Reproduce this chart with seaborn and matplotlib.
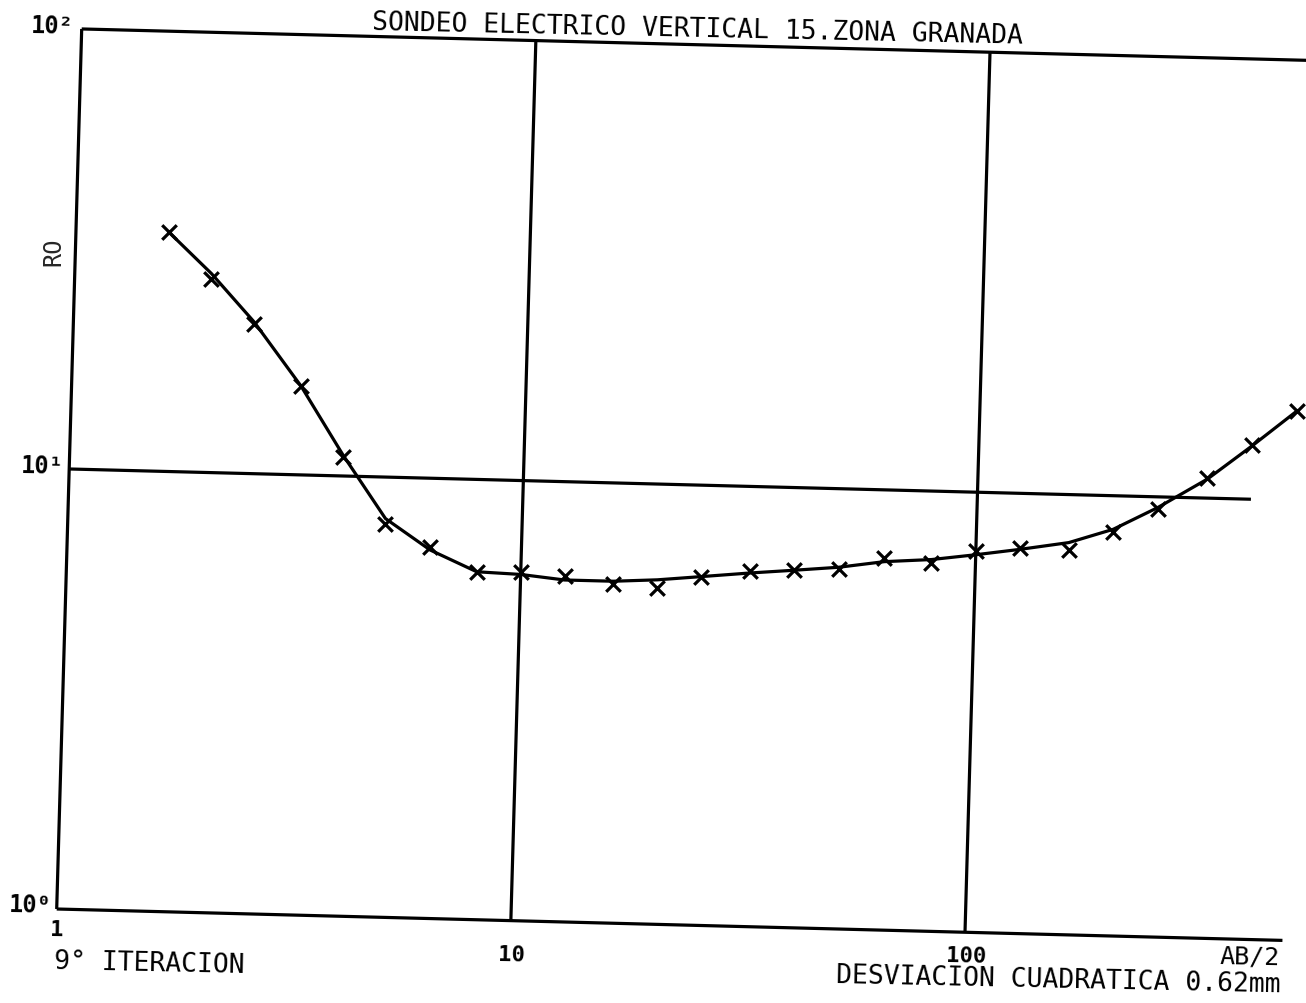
import numpy as np
import pandas as pd
import matplotlib
matplotlib.use("Agg")
import matplotlib.pyplot as plt
import seaborn as sns
from matplotlib.transforms import Affine2D

# Half electrode spacing AB/2 (m)
ab2 = [1.6, 2, 2.5, 3.2, 4, 5, 6.3, 8, 10, 12.5, 16, 20, 25, 32, 40, 50,
       63, 80, 100, 125, 160, 200, 250, 320, 400, 500]
# Measured apparent resistivity (crosses)
rho_obs = [35.0, 27.5, 21.9, 15.9, 11.05, 7.84, 6.99, 6.15, 6.21, 6.12, 5.88,
           5.82, 6.18, 6.41, 6.49, 6.58, 7.01, 6.85, 7.35, 7.53, 7.47, 8.25,
           9.38, 11.09, 13.3, 16.0]
# Model response after the 9th iteration (solid curve)
rho_fit = [35.0, 28.3, 22.1, 15.9, 11.14, 8.05, 6.87, 6.17, 6.12, 5.98, 5.98,
           6.06, 6.20, 6.36, 6.49, 6.63, 6.87, 6.99, 7.21, 7.46, 7.78, 8.39,
           9.46, 11.05, 13.24, 16.0]

title = "SONDEO ELECTRICO VERTICAL 15.ZONA GRANADA"
y_tick_labels = ["10\u00b2", "10\u00b9", "10\u2070"]
x_tick_labels = ["1", "10", "100"]

# Frame of the log-log sheet
X_MIN, X_BOTTOM_END, X_TOP_END = 1, 500, 1000
Y_MIN, Y_MAX = 1, 100
GRID_X = [10, 100]
GRID_Y, GRID_Y_END = 10, 400

sns.set_theme(style="white")
plt.rcParams["font.family"] = ["DejaVu Sans Mono", "DejaVu Sans"]

W, H = 1306, 1004
fig = plt.figure(figsize=(W / 100, H / 100), dpi=100)
fig.patch.set_facecolor("white")

ox, oy = 56.7, H - 910.0          # pixel position of (1, 1)
dec_x, dec_y = 454.3, 440.2       # pixels per decade
ax = fig.add_axes([ox / W, oy / H, 3 * dec_x / W, 2 * dec_y / H])
ax.set_xscale("log")
ax.set_yscale("log")

# the plotter sheet sits slightly skewed on the page
tx, ty = 0.0256, 0.0284
M = np.array([[np.cos(tx), np.sin(ty), 0.0],
              [-np.sin(tx), np.cos(ty), 0.0],
              [0.0, 0.0, 1.0]])
skew = Affine2D().translate(-ox, -oy) + Affine2D(M) + Affine2D().translate(ox, oy)
T = ax.transData + skew

LW = 2.3
df_fit = pd.DataFrame({"ab2": ab2, "rho": rho_fit})
df_obs = pd.DataFrame({"ab2": ab2, "rho": rho_obs})

sns.lineplot(data=df_fit, x="ab2", y="rho", ax=ax, color="black",
             linewidth=LW, estimator=None, sort=False)
line = ax.lines[-1]
line.set_transform(T)
line.set_clip_on(False)
line.set_solid_joinstyle("round")

sns.scatterplot(data=df_obs, x="ab2", y="rho", ax=ax, marker="x", s=110,
                color="black", linewidth=2.3)
pts = ax.collections[-1]
pts.set_offset_transform(T)
pts.set_clip_on(False)

frame_kw = dict(color="black", lw=LW, transform=T, clip_on=False,
                solid_capstyle="butt")
ax.plot([X_MIN, X_BOTTOM_END], [Y_MIN, Y_MIN], **frame_kw)
ax.plot([X_MIN, X_TOP_END], [Y_MAX, Y_MAX], **frame_kw)
ax.plot([X_MIN, X_MIN], [Y_MIN, Y_MAX], **frame_kw)
for gx in GRID_X:
    ax.plot([gx, gx], [Y_MIN, Y_MAX], **frame_kw)
ax.plot([X_MIN, GRID_Y_END], [GRID_Y, GRID_Y], **frame_kw)

ax.set_xlim(X_MIN, X_TOP_END)
ax.set_ylim(Y_MIN, Y_MAX)
ax.set_axis_off()


def put(px, py, s, size=18, ha="center", va="center", rot=-1.2, weight="normal"):
    fig.text(px / W, 1 - py / H, s, fontsize=size, ha=ha, va=va,
             rotation=rot, rotation_mode="anchor", color="black",
             fontweight=weight)


put(698, 30, title, size=19)
put(74, 27, y_tick_labels[0], size=17, ha="right", weight="bold")
put(64, 467, y_tick_labels[1], size=17, ha="right", weight="bold")
put(52, 906, y_tick_labels[2], size=17, ha="right", weight="bold")
put(57, 930, x_tick_labels[0], size=16, weight="bold")
put(511, 955, x_tick_labels[1], size=16, weight="bold")
put(966, 956, x_tick_labels[2], size=16, weight="bold")
put(54, 962, "9\u00b0 ITERACION", size=19, ha="left")
put(1280, 958, "AB/2", size=18, ha="right")
put(1281, 985, "DESVIACION CUADRATICA 0.62mm", size=19, ha="right")
fig.text(53 / W, 1 - 252 / H, "RO", fontsize=17, rotation=90,
         ha="center", va="center")

fig.savefig("out.png", dpi=100, facecolor="white")
